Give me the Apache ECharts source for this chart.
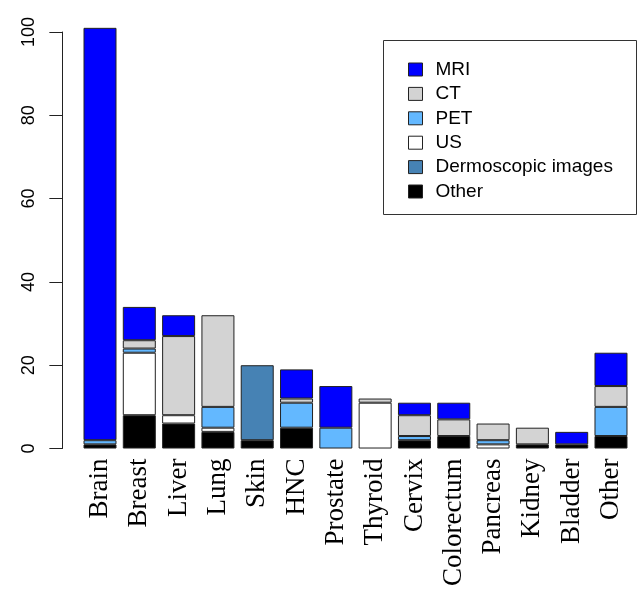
<!DOCTYPE html>
<html>
<head>
<meta charset="utf-8">
<script src="https://cdn.jsdelivr.net/npm/echarts@6/dist/echarts.min.js"></script>
<style>
  html, body { margin: 0; padding: 0; background: #fff; }
  #chart { width: 640px; height: 589px; }
</style>
</head>
<body>
<div id="chart"></div>
<script>
// 分类
const categories = ['Brain', 'Breast', 'Liver', 'Lung', 'Skin', 'HNC', 'Prostate', 'Thyroid',
  'Cervix', 'Colorectum', 'Pancreas', 'Kidney', 'Bladder', 'Other'];

// 各模态数量
const mriData   = [99, 8, 5, 0, 0, 7, 10, 0, 3, 4, 0, 0, 3, 8];
const ctData    = [0, 2, 19, 22, 0, 1, 0, 1, 5, 4, 4, 4, 0, 5];
const petData   = [1, 1, 0, 5, 0, 6, 5, 0, 1, 0, 1, 0, 0, 7];
const usData    = [0, 15, 2, 1, 0, 0, 0, 11, 0, 0, 1, 0, 0, 0];
const dermData  = [0, 0, 0, 0, 18, 0, 0, 0, 0, 0, 0, 0, 0, 0];
const otherData = [1, 8, 6, 4, 2, 5, 0, 0, 2, 3, 0, 1, 1, 3];

const yTicks = [0, 20, 40, 60, 80, 100];

// 图例顺序
const legendNames = ['MRI', 'CT', 'PET', 'US', 'Dermoscopic images', 'Other'];

// 堆叠顺序（从下到上）
const stackOrder = [
  {name: 'Other', data: otherData, color: '#000000'},
  {name: 'Dermoscopic images', data: dermData, color: '#4682B4'},
  {name: 'US', data: usData, color: '#FFFFFF'},
  {name: 'PET', data: petData, color: '#63B8FF'},
  {name: 'CT', data: ctData, color: '#D3D3D3'},
  {name: 'MRI', data: mriData, color: '#0000FF'}
];

function buildSeries() {
  return stackOrder.map(s => ({
    name: s.name,
    type: 'bar',
    stack: 'total',
    barWidth: 33,
    clip: false,
    data: s.data.map(v => v === 0 ? '-' : v),
    itemStyle: {
      color: s.color,
      borderColor: '#222',
      borderWidth: 1
    }
  }));
}

const myChart = echarts.init(document.getElementById('chart'));
myChart.setOption({
  animation: false,
  grid: {left: 80.35, width: 550.3, top: 32, bottom: 139.5},
  legend: {
    orient: 'vertical',
    left: 403,
    top: 55,
    icon: 'rect',
    itemWidth: 14,
    itemHeight: 13,
    itemGap: 5.4,
    data: legendNames,
    itemStyle: {borderColor: '#222', borderWidth: 1},
    textStyle: {
      fontFamily: 'Liberation Sans',
      fontSize: 19,
      lineHeight: 18,
      color: '#000',
      padding: [0, 0, 0, 8]
    }
  },
  graphic: {
    elements: [{
      type: 'rect',
      shape: {x: 383.5, y: 40.5, width: 253, height: 174},
      style: {fill: 'none', stroke: '#333', lineWidth: 1}
    }]
  },
  xAxis: {
    type: 'category',
    data: categories,
    axisLine: {show: false},
    axisTick: {show: false},
    axisLabel: {
      rotate: 90,
      interval: 0,
      margin: 10,
      fontFamily: 'Liberation Serif',
      fontSize: 27,
      color: '#000'
    }
  },
  yAxis: {
    type: 'value',
    min: yTicks[0],
    max: yTicks[yTicks.length - 1],
    interval: 20,
    offset: 18,
    splitLine: {show: false},
    axisLine: {show: true, lineStyle: {color: '#222', width: 1}},
    axisTick: {show: true, length: 13, lineStyle: {color: '#222'}},
    axisLabel: {
      rotate: 90,
      margin: 24,
      fontFamily: 'Liberation Sans',
      fontSize: 18,
      color: '#000'
    }
  },
  series: buildSeries()
});
</script>
</body>
</html>
